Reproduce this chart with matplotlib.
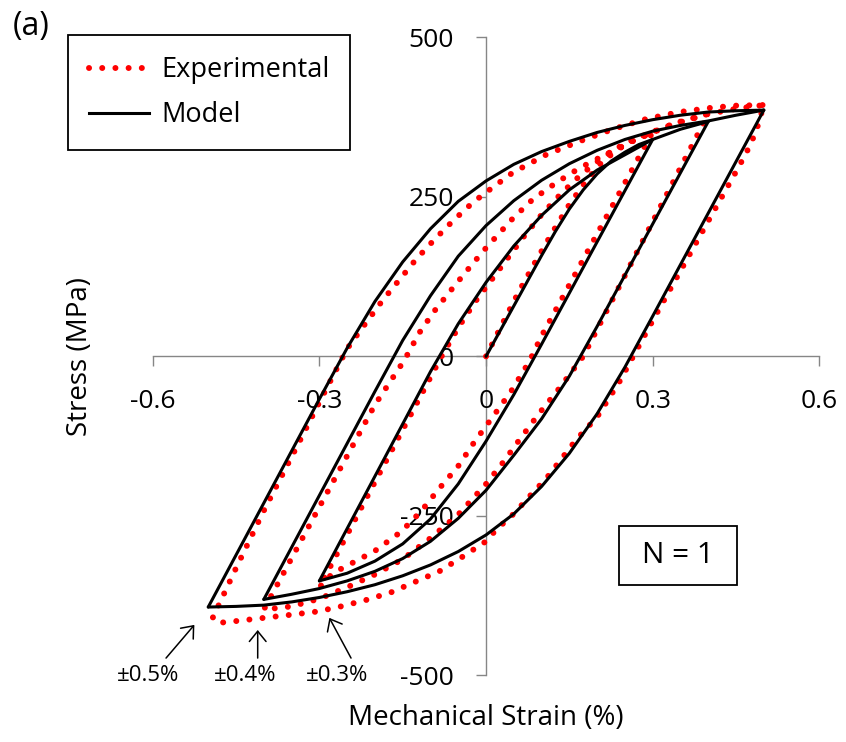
import matplotlib
matplotlib.use('Agg')
import matplotlib.pyplot as plt
import numpy as np
from matplotlib.patches import Rectangle
from matplotlib.lines import Line2D

plt.rcParams['font.family'] = ['Open Sans', 'DejaVu Sans']

# ---------------- data (strain %, stress MPa) ----------------
# Model
mod_init_x = [0.0, 0.1, 0.125, 0.15, 0.175, 0.2, 0.225, 0.25, 0.275, 0.3]
mod_init_y = [0, 158, 196, 231, 261, 286, 306, 320, 332, 340]

mod_03_down_x = [0.3, 0.1, 0.05, 0.0, -0.05, -0.1, -0.15, -0.2, -0.25, -0.3]
mod_03_down_y = [340, 19, -60, -133, -200, -255, -294, -321, -340, -352]
mod_03_up_x = [-0.3, -0.1, -0.05, 0.0, 0.05, 0.1, 0.15, 0.2, 0.25, 0.3, 0.35, 0.4]
mod_03_up_y = [-352, -24, 51, 116, 173, 221, 261, 292, 316, 340, 356, 368]

mod_04_down_x = [0.4, 0.2, 0.15, 0.1, 0.05, 0.0, -0.05, -0.1, -0.15, -0.2, -0.25, -0.3, -0.35, -0.4]
mod_04_down_y = [368, 47, -31, -98, -155, -210, -254, -290, -317, -337, -352, -364, -373, -381]
mod_04_up_x = [-0.4, -0.2, -0.15, -0.1, -0.05, 0.0, 0.05, 0.1, 0.15, 0.2, 0.25, 0.3, 0.35, 0.4, 0.45, 0.5]
mod_04_up_y = [-381, -55, 25, 95, 157, 205, 244, 276, 302, 323, 340, 353, 362, 369, 378, 386]

mod_05_down_x = [0.5, 0.3, 0.25, 0.2, 0.15, 0.1, 0.05, 0.0, -0.05, -0.1, -0.15, -0.2, -0.25, -0.3, -0.35, -0.4, -0.45, -0.5]
mod_05_down_y = [386, 63, -17, -90, -152, -204, -247, -280, -306, -327, -344, -358, -369, -378, -385, -390, -392, -393]
mod_05_up_x = [-0.5, -0.3, -0.25, -0.2, -0.15, -0.1, -0.05, 0.0, 0.05, 0.1, 0.15, 0.2, 0.25, 0.3, 0.35, 0.4, 0.45, 0.5]
mod_05_up_y = [-393, -67, 13, 86, 148, 200, 243, 275, 301, 321, 337, 351, 362, 371, 378, 383, 385, 386]

# Experimental
exp_init_x = [0.0, 0.03, 0.06, 0.09, 0.12, 0.15, 0.18, 0.21, 0.25, 0.3]
exp_init_y = [0, 52, 103, 150, 195, 238, 275, 306, 332, 352]

exp_03_down_x = [0.3, 0.2, 0.1, 0.078, 0.045, 0.012, -0.02, -0.05, -0.085, -0.117, -0.153, -0.2, -0.243, -0.276, -0.3]
exp_03_down_y = [352, 192, 32, -8, -55, -95, -133, -172, -208, -243, -275, -305, -325, -340, -362]
exp_03_up_x = [-0.3, -0.2, -0.12, -0.08, -0.05, -0.02, 0.01, 0.04, 0.07, 0.1, 0.135, 0.17, 0.21, 0.25, 0.3, 0.35, 0.4]
exp_03_up_y = [-362, -197, -66, 0, 45, 85, 120, 155, 190, 222, 255, 284, 312, 334, 352, 368, 380]

exp_04_down_x = [0.4, 0.3, 0.2, 0.175, 0.132, 0.096, 0.06, 0.03, 0.0, -0.05, -0.1, -0.15, -0.2, -0.25, -0.3, -0.35, -0.4]
exp_04_down_y = [380, 211, 42, 0, -50, -89, -131, -167, -200, -248, -285, -318, -342, -362, -380, -392, -397]
exp_04_up_x = [-0.4, -0.3, -0.2, -0.147, -0.12, -0.093, -0.06, -0.03, 0.0, 0.048, 0.084, 0.126, 0.168, 0.21, 0.27, 0.33, 0.4, 0.45, 0.5]
exp_04_up_y = [-397, -236, -76, -6, 37, 71, 107, 139, 170, 216, 246, 272, 295, 314, 340, 362, 380, 388, 394]

exp_05_down_x = [0.5, 0.486, 0.468, 0.444, 0.4, 0.35, 0.3, 0.27, 0.24, 0.2, 0.162, 0.132, 0.108, 0.084, 0.051, 0.018, 0.0,
                 -0.042, -0.084, -0.126, -0.171, -0.216, -0.261, -0.303, -0.35, -0.4, -0.45, -0.483, -0.492]
exp_05_down_y = [394, 352, 318, 280, 212, 134, 56, 8, -40, -95, -131, -165, -192, -214, -246, -272, -290,
                 -314, -337, -353, -370, -382, -392, -400, -405, -410, -415, -418, -410]
exp_05_up_x = [-0.492, -0.45, -0.4, -0.339, -0.3, -0.25, -0.22, -0.186, -0.156, -0.126, -0.093, -0.06, -0.024, 0.0,
               0.048, 0.108, 0.168, 0.228, 0.288, 0.348, 0.408, 0.45, 0.5]
exp_05_up_y = [-410, -332, -242, -139, -72, 12, 48, 88, 120, 152, 183, 212, 241, 257,
               288, 316, 337, 356, 372, 383, 390, 393, 394]

x_ticks = [-0.6, -0.3, 0.0, 0.3, 0.6]
x_tick_labels = ['-0.6', '-0.3', '0', '0.3', '0.6']
y_ticks = [-500, -250, 0, 250, 500]
y_tick_labels = ['-500', '-250', '0', '250', '500']

amp_labels = ['\u00b10.5%', '\u00b10.4%', '\u00b10.3%']

# ---------------- figure ----------------
fig = plt.figure(figsize=(8.46, 7.42), dpi=100)
ax = fig.add_axes([0.1805, 0.0899, 0.788, 0.8597])
ax.set_xlim(-0.6, 0.6)
ax.set_ylim(-500, 500)

axis_col = '#868686'
for s in ['top', 'right']:
    ax.spines[s].set_visible(False)
ax.spines['left'].set_position(('data', 0))
ax.spines['bottom'].set_position(('data', 0))
for s in ['left', 'bottom']:
    ax.spines[s].set_color(axis_col)
    ax.spines[s].set_linewidth(1.0)
    ax.spines[s].set_zorder(1)

ax.set_xticks(x_ticks)
ax.set_xticklabels(x_tick_labels)
ax.set_yticks(y_ticks)
ax.set_yticklabels(y_tick_labels)
ax.tick_params(axis='x', direction='out', length=7.2, width=1.0, color=axis_col, pad=16, labelsize=19)
ax.tick_params(axis='y', direction='out', length=7.2, width=1.0, color=axis_col, pad=16, labelsize=19)

dot_style = dict(color='red', lw=4.3, linestyle=(0, (0.01, 2.2)), dash_capstyle='round', zorder=3)
mod_style = dict(color='black', lw=2.2, solid_capstyle='round', solid_joinstyle='round', zorder=4)

exp_x = np.concatenate([exp_init_x, exp_03_down_x, exp_03_up_x, exp_04_down_x, exp_04_up_x, exp_05_down_x, exp_05_up_x])
exp_y = np.concatenate([exp_init_y, exp_03_down_y, exp_03_up_y, exp_04_down_y, exp_04_up_y, exp_05_down_y, exp_05_up_y])
ax.plot(exp_x, exp_y, **dot_style)

for xs, ys in [(mod_init_x, mod_init_y), (mod_03_down_x, mod_03_down_y), (mod_03_up_x, mod_03_up_y),
               (mod_04_down_x, mod_04_down_y), (mod_04_up_x, mod_04_up_y),
               (mod_05_down_x, mod_05_down_y), (mod_05_up_x, mod_05_up_y)]:
    ax.plot(xs, ys, **mod_style)

# axis labels
ax.set_xlabel('Mechanical Strain (%)', fontsize=20)
ax.xaxis.set_label_coords(0.5, -0.067)
ax.xaxis.label.set_verticalalignment('center')
ax.set_ylabel('Stress (MPa)', fontsize=20)
ax.yaxis.set_label_coords(-0.109, 0.5)
ax.yaxis.label.set_verticalalignment('center')

# legend
handles = [Line2D([], [], **{k: v for k, v in dot_style.items() if k != 'zorder'}),
           Line2D([], [], color='black', lw=2.2)]
leg = ax.legend(handles, ['Experimental', 'Model'], loc='upper left',
                bbox_to_anchor=(68 / 846, 1 - 35 / 742), bbox_transform=fig.transFigure,
                borderaxespad=0, fontsize=19.5, handlelength=2.2, handletextpad=0.45,
                borderpad=0.78, labelspacing=0.63, fancybox=False, framealpha=1)
leg.get_frame().set_edgecolor('black')
leg.get_frame().set_linewidth(1.3)

# N = 1 box
ax.add_patch(Rectangle((0.6995, 0.1416), 0.177, 0.0925, transform=ax.transAxes,
                       fill=False, edgecolor='black', lw=1.3, zorder=5, clip_on=False))
ax.text(0.788, 0.188, 'N = 1', transform=ax.transAxes, ha='center', va='center', fontsize=21.5)

# panel label
fig.text(31 / 846, 1 - 27 / 742, '(a)', ha='center', va='center', fontsize=23)

# amplitude annotations
arrow_tips = [(-0.525, -421), (-0.411, -429), (-0.282, -410)]
arrow_tails = [(-0.576, -473), (-0.411, -473), (-0.243, -473)]
text_pos = [(-0.609, -500), (-0.434, -500), (-0.268, -500)]
for lab, tip, tail, tp in zip(amp_labels, arrow_tips, arrow_tails, text_pos):
    ax.annotate('', xy=tip, xytext=tail,
                arrowprops=dict(arrowstyle='->,head_length=0.37,head_width=0.3', mutation_scale=20,
                                lw=1.1, color='black', shrinkA=0, shrinkB=0))
    ax.text(tp[0], tp[1], lab, ha='center', va='center', fontsize=16)

fig.savefig('out.png', dpi=100)
